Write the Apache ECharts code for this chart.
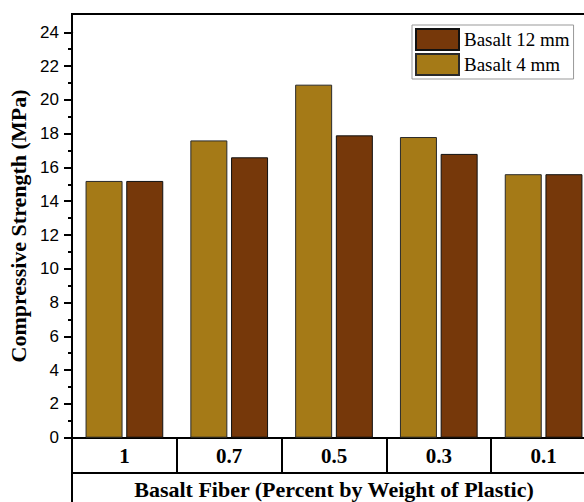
<!DOCTYPE html>
<html>
<head>
<meta charset="utf-8">
<script src="https://cdn.jsdelivr.net/npm/echarts@6/dist/echarts.min.js"></script>
<style>html,body{margin:0;padding:0;background:#fff}#c{width:584px;height:502px}</style>
</head>
<body>
<div id="c"></div>
<script>
var categories = ['1', '0.7', '0.5', '0.3', '0.1'];
var basalt4 = [15.2, 17.6, 20.9, 17.8, 15.6];
var basalt12 = [15.2, 16.6, 17.9, 16.8, 15.6];
var yTicks = { min: 0, max: 24, interval: 2 };

var SERIF = '"Liberation Serif","Times New Roman",serif';
var SANS = '"Liberation Sans",Arial,sans-serif';
var chart = echarts.init(document.getElementById('c'), null, { renderer: 'svg' });
chart.setOption({
  animation: false,
  backgroundColor: '#fff',
  grid: [
    { left: 72, width: 524, top: 32.3, height: 405.4, containLabel: false, outerBoundsMode: 'none' },
    { left: 72, width: 524, top: 14, height: 500, show: true, borderColor: '#000', borderWidth: 2, backgroundColor: 'transparent', outerBoundsMode: 'none' }
  ],
  legend: {
    orient: 'vertical', left: 412, top: 25,
    data: ['Basalt 12 mm', 'Basalt 4 mm'],
    itemWidth: 43, itemHeight: 21, itemGap: 2,
    padding: [3, 4, 3, 3],
    borderColor: '#999', borderWidth: 1,
    textStyle: { fontFamily: SERIF, fontSize: 19, color: '#000' },
    icon: 'rect'
  },
  xAxis: [
    {
      type: 'category', gridIndex: 0, data: categories, position: 'bottom',
      name: 'Basalt Fiber (Percent by Weight of Plastic)', nameLocation: 'middle', nameGap: 41,
      nameTextStyle: { fontFamily: SERIF, fontWeight: 'bold', fontSize: 22, color: '#000' },
      axisLine: { lineStyle: { color: '#000', width: 2 } },
      axisTick: { show: true, length: 35, inside: false, alignWithLabel: false, lineStyle: { color: '#000', width: 2 } },
      axisLabel: { fontFamily: SERIF, fontWeight: 'bold', fontSize: 21, color: '#000', margin: 8 },
      splitLine: { show: false }
    },
    {
      type: 'category', gridIndex: 0, data: categories, position: 'bottom', offset: 35,
      axisLine: { lineStyle: { color: '#000', width: 2 } },
      axisTick: { show: false }, axisLabel: { show: false }, splitLine: { show: false }
    },
    { type: 'category', gridIndex: 1, data: categories, show: false }
  ],
  yAxis: [
    {
      type: 'value', gridIndex: 0, min: yTicks.min, max: yTicks.max, interval: yTicks.interval,
      name: 'Compressive Strength (MPa)', nameLocation: 'middle', nameGap: 40,
      nameTextStyle: { fontFamily: SERIF, fontWeight: 'bold', fontSize: 22, color: '#000', padding: [0, 0, 0, 18] },
      axisLine: { show: true, lineStyle: { color: '#000', width: 2 } },
      axisTick: { show: true, length: 8, lineStyle: { color: '#000', width: 2 } },
      minorTick: { show: true, splitNumber: 2, length: 4, lineStyle: { color: '#000', width: 2 } },
      axisLabel: { fontFamily: SANS, fontSize: 17, color: '#000', margin: 13 },
      splitLine: { show: false }
    },
    { type: 'value', gridIndex: 1, show: false, min: 0, max: 1 }
  ],
  series: [
    {
      name: 'Basalt 4 mm', type: 'bar', xAxisIndex: 0, yAxisIndex: 0, data: basalt4,
      barWidth: 37, barGap: '10%',
      itemStyle: { color: '#A57A17', borderColor: '#2a2a2a', borderWidth: 1 }
    },
    {
      name: 'Basalt 12 mm', type: 'bar', xAxisIndex: 0, yAxisIndex: 0, data: basalt12,
      barWidth: 37, barGap: '10%',
      itemStyle: { color: '#76380A', borderColor: '#111', borderWidth: 1 }
    }
  ]
});
</script>
</body>
</html>
